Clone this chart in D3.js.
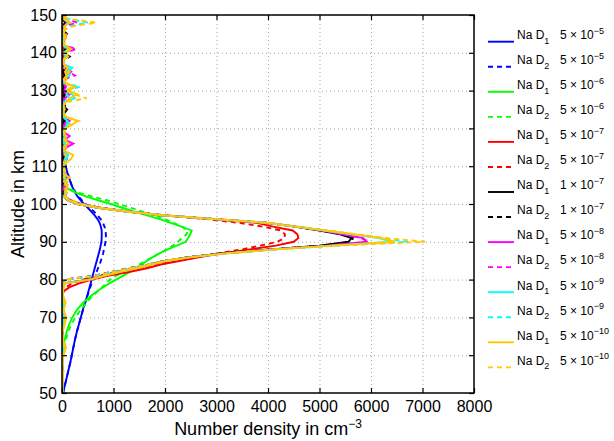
<!DOCTYPE html>
<html>
<head>
<meta charset="utf-8">
<title>Na D line number density profiles</title>
<script src="https://cdn.jsdelivr.net/npm/d3@7/dist/d3.min.js"></script>
<style>
  html, body { margin: 0; padding: 0; background: #ffffff; }
  svg { display: block; }
  text { font-family: "Liberation Sans", Arial, Helvetica, sans-serif; fill: #000; }
</style>
</head>
<body>
<svg id="chart" width="614" height="441"></svg>
<script>
// Altitude grid (km) shared by all profiles
const altitudeKm = [
  50,52,54,56,58,60,62,64,66,68,70,72,74,76,
  77,78,79,80,81,82,83,84,85,86,87,88,89,90,
  91,92,93,94,95,96,97,98,99,100,101,102,103,104,
  105,106,107,108,109,110,111,112,113,114,115,116,117,118,119,120,121,122,123,124,125,126,127,
  128,129,130,131,132,133,134,135,136,137,138,139,140,141,142,143,144,145,146,147,148,149,150
];

// Number density (cm^-3) per line and lifetime parameter
const naD1_5e5 = [
  20,55,90,125,160,190,220,250,285,325,365,405,450,495,
  515,535,555,575,595,615,635,655,675,695,715,735,750,765,
  770,772,770,755,730,690,635,570,500,425,360,300,255,220,
  185,160,135,110,90,70,52,38,25,15,8,3,0,0,0,0,0,0,0,0,0,0,0,
  0,0,0,0,0,0,0,0,0,0,0,0,0,0,0,0,0,0,0,0,0,0,0
];
const naD2_5e5 = [
  20,55,90,125,160,190,220,250,285,325,365,410,455,500,
  525,550,575,610,640,670,700,730,755,780,800,815,830,845,
  852,852,845,825,795,750,690,620,540,460,385,320,268,228,
  190,163,138,112,92,72,54,40,27,16,9,4,0,0,0,0,0,0,0,0,0,0,0,
  0,0,0,0,0,0,0,0,0,0,0,0,0,0,0,0,0,0,0,0,0,0,0
];
const naD1_5e6 = [
  0,0,0,0,5,12,25,50,85,135,200,290,420,590,
  690,800,920,1050,1180,1320,1440,1550,1650,1770,1900,2050,2230,2400,
  2450,2490,2518,2320,2110,1900,1650,1400,1170,950,700,460,260,120,
  50,20,5,0,0,0,0,0,0,0,0,0,0,0,0,0,0,0,0,0,0,0,0,
  0,0,0,0,0,0,0,0,0,0,0,0,0,40,0,0,0,0,0,60,0,0,0
];
const naD2_5e6 = [
  0,0,0,5,15,25,45,75,115,175,260,360,480,620,
  700,780,855,930,1050,1200,1360,1500,1630,1760,1900,2040,2150,2250,
  2330,2420,2440,2320,2170,2000,1800,1560,1330,1100,870,580,320,140,
  50,15,0,0,0,0,0,0,0,0,0,0,0,0,0,0,0,0,0,0,0,0,0,
  0,0,0,0,0,0,0,0,0,0,0,30,0,0,0,0,0,0,0,0,40,0,0
];
const naD1_5e7 = [
  0,0,0,0,0,0,0,0,0,0,0,0,0,10,
  40,150,330,580,890,1300,1650,1920,2300,2700,3150,3650,4150,4500,
  4590,4570,4480,4100,3780,2900,1980,1280,730,310,120,40,20,50,
  20,10,30,10,20,10,20,30,10,20,10,30,10,20,10,20,30,40,10,20,10,20,10,
  30,20,10,40,10,20,30,10,20,10,20,10,30,80,10,20,10,30,10,20,60,10,0
];
const naD2_5e7 = [
  0,0,0,0,0,0,0,0,0,0,0,0,0,5,
  20,80,200,400,700,1100,1500,1850,2250,2650,3050,3500,3850,4180,
  4320,4330,4250,3900,3450,2800,1950,1290,750,360,160,50,30,60,
  10,30,10,20,10,20,10,20,30,10,20,10,20,10,20,10,20,30,10,20,10,30,10,
  20,30,10,20,10,30,20,10,20,30,10,20,10,40,10,20,10,20,10,30,150,20,0
];
const naD1_1e7 = [
  5,5,10,5,10,5,15,5,10,5,20,10,15,5,
  10,20,45,510,780,1080,1420,1720,2020,2500,3180,4050,5000,5560,
  5625,5400,5000,4520,3970,2950,1950,1250,700,300,110,40,30,90,
  40,20,100,30,20,40,20,30,40,20,30,60,20,30,20,40,30,60,20,40,100,20,30,
  30,60,20,40,20,30,50,20,40,30,20,50,30,140,20,30,40,100,20,30,60,20,0
];
const naD2_1e7 = [
  5,10,5,10,5,10,5,15,5,10,15,5,10,5,
  10,20,35,60,620,950,1290,1650,2010,2490,3170,4050,5050,5620,
  5650,5420,5030,4550,4000,2990,1990,1290,750,370,160,60,40,70,
  30,50,20,60,20,30,40,20,30,40,20,40,30,20,30,20,40,30,20,30,40,60,20,
  40,20,30,50,20,40,20,30,60,20,40,150,30,60,20,40,30,60,20,40,100,30,0
];
const naD1_5e8 = [
  5,10,5,15,5,10,20,5,15,10,30,5,20,10,
  15,25,50,520,790,1090,1430,1730,2030,2530,3220,4100,5150,5920,
  5850,5450,5050,4540,3980,2950,1950,1250,700,300,110,50,80,40,
  80,40,120,30,50,20,40,100,60,30,90,220,50,150,30,40,60,150,30,20,40,20,30,
  60,150,40,80,30,60,100,180,60,30,20,50,30,220,40,30,80,50,30,40,100,20,0
];
const naD2_5e8 = [
  10,5,10,5,15,5,10,20,5,15,20,10,15,5,
  10,25,40,65,630,960,1300,1660,2020,2510,3210,4100,5200,5960,
  5800,5480,5080,4560,4000,2990,1990,1290,750,370,170,60,90,50,
  40,90,30,70,20,40,30,60,40,20,60,130,30,80,20,30,40,90,20,40,30,20,40,
  40,90,30,60,40,30,250,120,40,20,30,40,60,280,30,20,40,80,30,50,300,60,0
];
const naD1_5e9 = [
  5,15,10,5,20,10,35,10,5,25,45,15,30,5,
  10,30,55,530,800,1100,1440,1740,2040,2540,3240,4140,5240,6430,
  6150,5620,5090,4540,3980,2950,1950,1250,700,300,120,40,60,90,
  100,30,70,20,50,30,60,90,120,40,30,60,20,50,30,40,150,100,30,20,40,10,50,
  250,200,80,280,50,20,150,90,200,30,40,80,30,120,50,20,60,30,40,60,120,30,0
];
const naD2_5e9 = [
  10,5,15,20,10,5,25,15,10,20,40,10,25,15,
  20,30,45,70,640,970,1310,1670,2030,2520,3230,4150,5320,6720,
  6220,5680,5130,4570,4010,2990,1990,1290,750,370,170,55,50,80,
  50,80,20,60,30,50,20,60,80,30,50,30,60,20,40,70,90,120,40,20,30,50,40,
  150,90,60,350,40,60,100,50,130,40,20,60,90,80,30,50,20,60,40,150,500,80,0
];
const naD1_5e10 = [
  15,5,25,10,5,30,80,15,10,50,85,30,70,15,
  20,35,60,550,820,1120,1450,1750,2050,2550,3250,4150,5250,6470,
  6200,5650,5100,4540,3980,2950,1950,1250,700,300,120,40,90,60,
  120,40,150,30,60,20,90,180,220,60,20,130,40,80,20,60,200,300,90,20,50,30,80,
  150,300,120,250,80,30,100,60,120,40,20,120,50,180,60,20,80,30,60,40,150,40,0
];
const naD2_5e10 = [
  10,20,5,30,15,10,40,25,5,30,60,20,45,10,
  15,25,40,60,650,980,1320,1680,2030,2520,3230,4150,5350,7050,
  6280,5700,5150,4580,4020,3000,2000,1300,760,380,180,60,40,110,
  60,110,30,90,20,70,30,100,60,20,80,40,90,30,50,100,150,320,60,30,70,20,110,
  480,220,60,200,40,90,50,150,40,80,30,60,100,120,30,60,40,90,30,200,670,120,0
];

// Legend text pieces
const lineSubscripts = ["1", "2"];
const lifetimeMantissas = ["5", "5", "5", "1", "5", "5", "5"];
const lifetimeExponents = ["\u22125", "\u22126", "\u22127", "\u22127", "\u22128", "\u22129", "\u221210"];

// Axis ticks
const xTicks = [0, 1000, 2000, 3000, 4000, 5000, 6000, 7000, 8000];
const yTicks = [50, 60, 70, 80, 90, 100, 110, 120, 130, 140, 150];

// ---- drawing ----
const lifetimeColors = ["#0000ff", "#00ff00", "#ff0000", "#000000", "#ff00ff", "#00ffff", "#ffc800"];
const profiles = [
  naD1_5e5, naD2_5e5, naD1_5e6, naD2_5e6, naD1_5e7, naD2_5e7, naD1_1e7,
  naD2_1e7, naD1_5e8, naD2_5e8, naD1_5e9, naD2_5e9, naD1_5e10, naD2_5e10
];
const series = profiles.map((values, i) => ({
  values,
  group: Math.floor(i / 2),
  line: i % 2
}));

const svg = d3.select("#chart");
const plotLeft = 62, plotRight = 474, plotTop = 15, plotBottom = 393;

const x = d3.scaleLinear().domain([0, 8000]).range([plotLeft, plotRight]);
const y = d3.scaleLinear().domain([50, 150]).range([plotBottom, plotTop]);

svg.append("rect").attr("width", 614).attr("height", 441).attr("fill", "#fff");

// dotted grid
const gridX = d3.axisBottom(x).tickValues(xTicks.slice(1, -1)).tickSize(-(plotBottom - plotTop)).tickFormat("");
const gridY = d3.axisLeft(y).tickValues(yTicks.slice(1, -1)).tickSize(-(plotRight - plotLeft)).tickFormat("");
const gridGroups = svg.append("g");
gridGroups.append("g").attr("transform", `translate(0,${plotBottom})`).call(gridX)
  .call(g => g.select(".domain").remove());
gridGroups.append("g").attr("transform", `translate(${plotLeft},0)`).call(gridY)
  .call(g => g.select(".domain").remove());
gridGroups.selectAll(".tick line")
  .attr("stroke", "#a6a6a6").attr("stroke-width", 1).attr("stroke-dasharray", "1,3");

// profiles
svg.append("clipPath").attr("id", "plotClip")
  .append("rect").attr("x", plotLeft).attr("y", plotTop)
  .attr("width", plotRight - plotLeft).attr("height", plotBottom - plotTop);

const line = d3.line()
  .x(d => x(d[1]))
  .y(d => y(d[0]));

svg.append("g").attr("clip-path", "url(#plotClip)")
  .selectAll("path")
  .data(series)
  .join("path")
  .attr("d", s => line(altitudeKm.map((a, i) => [a, s.values[i]])))
  .attr("fill", "none")
  .attr("stroke", s => lifetimeColors[s.group])
  .attr("stroke-width", 1.9)
  .attr("stroke-dasharray", s => s.line ? "5,4" : null);

// box with inward ticks on all sides
const tickLen = 5;
const axB = svg.append("g").attr("transform", `translate(0,${plotBottom})`)
  .call(d3.axisBottom(x).tickValues(xTicks).tickSizeInner(-tickLen).tickSizeOuter(0).tickPadding(8).tickFormat(d3.format("d")));
const axT = svg.append("g").attr("transform", `translate(0,${plotTop})`)
  .call(d3.axisTop(x).tickValues(xTicks).tickSizeInner(-tickLen).tickSizeOuter(0).tickFormat(""));
const axL = svg.append("g").attr("transform", `translate(${plotLeft},0)`)
  .call(d3.axisLeft(y).tickValues(yTicks).tickSizeInner(-tickLen).tickSizeOuter(0).tickPadding(5).tickFormat(d3.format("d")));
const axR = svg.append("g").attr("transform", `translate(${plotRight},0)`)
  .call(d3.axisRight(y).tickValues(yTicks).tickSizeInner(-tickLen).tickSizeOuter(0).tickFormat(""));
[axB, axT, axL, axR].forEach(g => {
  g.select(".domain").remove();
  g.selectAll(".tick line").attr("stroke", "#000").attr("stroke-width", 1.2);
  g.selectAll("text").attr("font-size", 16).attr("fill", "#000")
    .style("font-family", '"Liberation Sans", Arial, sans-serif');
});

svg.append("rect")
  .attr("x", plotLeft).attr("y", plotTop)
  .attr("width", plotRight - plotLeft).attr("height", plotBottom - plotTop)
  .attr("fill", "none").attr("stroke", "#000").attr("stroke-width", 1.5);

// axis titles
const xt = svg.append("text").attr("x", (plotLeft + plotRight) / 2).attr("y", 435)
  .attr("text-anchor", "middle").attr("font-size", 18);
xt.append("tspan").text("Number density in cm");
xt.append("tspan").attr("font-size", 12).attr("dy", -7).text("\u22123");

svg.append("text")
  .attr("transform", `translate(24,${(plotTop + plotBottom) / 2}) rotate(-90)`)
  .attr("text-anchor", "middle").attr("font-size", 18)
  .text("Altitude in km");

// legend
const legend = svg.append("g");
series.forEach((s, i) => {
  const ly = 41.7 + i * 25.05;
  legend.append("line")
    .attr("x1", 488).attr("x2", 514).attr("y1", ly).attr("y2", ly)
    .attr("stroke", lifetimeColors[s.group]).attr("stroke-width", 1.9)
    .attr("stroke-dasharray", s.line ? "5,4" : null);
  const t1 = legend.append("text").attr("x", 517).attr("y", ly - 2.7).attr("font-size", 12);
  t1.append("tspan").text("Na D");
  t1.append("tspan").attr("font-size", 9).attr("dy", 4.5).text(lineSubscripts[s.line]);
  const t2 = legend.append("text").attr("x", 560).attr("y", ly - 2.7).attr("font-size", 12);
  t2.append("tspan").text(lifetimeMantissas[s.group] + " \u00d7 10");
  t2.append("tspan").attr("font-size", 9).attr("dy", -5.5).text(lifetimeExponents[s.group]);
});
</script>
</body>
</html>
